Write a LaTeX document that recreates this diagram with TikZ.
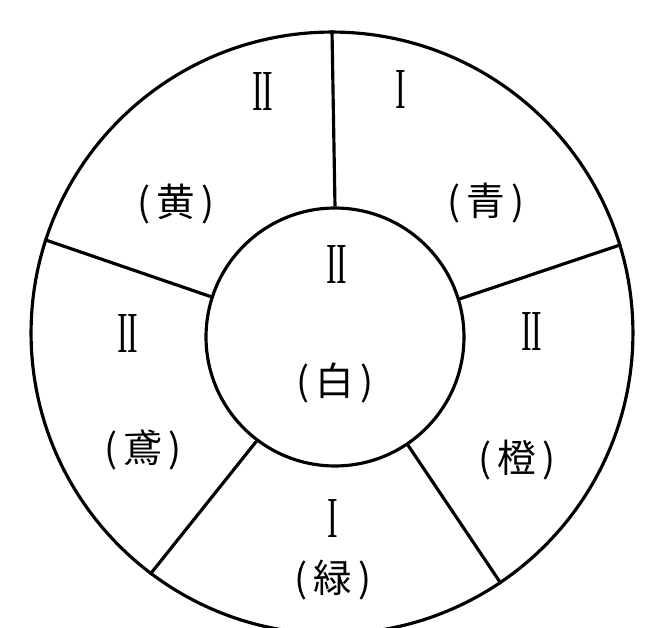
\documentclass[tikz,border=0pt]{standalone}
\usepackage{fontspec}
\newfontfamily\cjk{Noto Sans CJK JP}
\newfontfamily\numfont[FakeStretch=0.55]{Liberation Serif}
\tikzset{
  ring/.style={draw, circle, line width=1.8pt, inner sep=0pt},
  spoke/.style={line width=1.8pt},
  grade/.style={font=\numfont\fontsize{33}{33}\selectfont, inner sep=0pt},
  hue/.style={font=\cjk\fontsize{22}{24}\selectfont, inner sep=0pt},
}
\begin{document}
\begin{tikzpicture}[x=0.02cm, y=0.02cm]
  \useasboundingbox (-332,-295) rectangle (325,333);
  \node[ring, minimum size=12.04cm] (outer) at (0,0) {};
  \node[ring, minimum size=5.16cm] (inner) at (3,-4) {};
  % spokes between the two rings
  \foreach \a in {90,17,-56,-127,162}
    \draw[spoke] (inner.\a) -- (outer.\a);
  % grade and colour in each field
  \foreach \g/\gx/\gy/\c/\cx/\cy [count=\i] in {
      II/-69/241/黄/-156/129, I/69/243/青/154/130,
      II/5/68/白/3/-50, II/200/1/橙/185/-127,
      I/1/-186/緑/1/-247, II/-204/-1/鳶/-189/-117}{
    \node[grade] (g\i) at (\gx,\gy) {\g};
    \node[hue] (c\i) at (\cx,\cy) {(\,\c\,)};
  }
\end{tikzpicture}
\end{document}
